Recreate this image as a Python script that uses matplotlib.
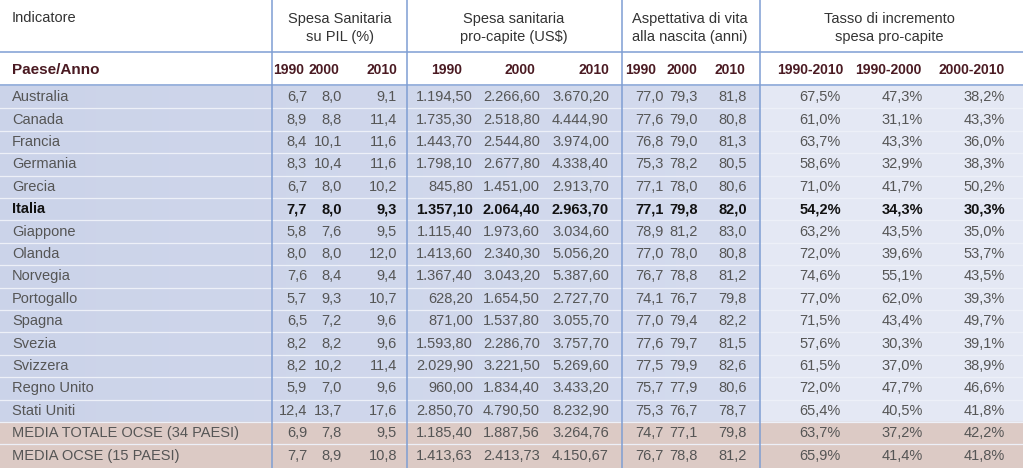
import numpy as np
import matplotlib
matplotlib.use('Agg')
import matplotlib.pyplot as plt

plt.rcParams['font.family'] = ['Liberation Sans', 'DejaVu Sans']

# dati della tabella
paesi = ['Australia', 'Canada', 'Francia', 'Germania', 'Grecia', 'Italia', 'Giappone',
         'Olanda', 'Norvegia', 'Portogallo', 'Spagna', 'Svezia', 'Svizzera', 'Regno Unito',
         'Stati Uniti', 'MEDIA TOTALE OCSE (34 PAESI)', 'MEDIA OCSE (15 PAESI)']
pil_1990 = [6.7, 8.9, 8.4, 8.3, 6.7, 7.7, 5.8, 8.0, 7.6, 5.7, 6.5, 8.2, 8.2, 5.9, 12.4, 6.9, 7.7]
pil_2000 = [8.0, 8.8, 10.1, 10.4, 8.0, 8.0, 7.6, 8.0, 8.4, 9.3, 7.2, 8.2, 10.2, 7.0, 13.7, 7.8, 8.9]
pil_2010 = [9.1, 11.4, 11.6, 11.6, 10.2, 9.3, 9.5, 12.0, 9.4, 10.7, 9.6, 9.6, 11.4, 9.6, 17.6, 9.5, 10.8]
pc_1990 = [1194.50, 1735.30, 1443.70, 1798.10, 845.80, 1357.10, 1115.40, 1413.60, 1367.40, 628.20,
           871.00, 1593.80, 2029.90, 960.00, 2850.70, 1185.40, 1413.63]
pc_2000 = [2266.60, 2518.80, 2544.80, 2677.80, 1451.00, 2064.40, 1973.60, 2340.30, 3043.20, 1654.50,
           1537.80, 2286.70, 3221.50, 1834.40, 4790.50, 1887.56, 2413.73]
pc_2010 = [3670.20, 4444.90, 3974.00, 4338.40, 2913.70, 2963.70, 3034.60, 5056.20, 5387.60, 2727.70,
           3055.70, 3757.70, 5269.60, 3433.20, 8232.90, 3264.76, 4150.67]
vita_1990 = [77.0, 77.6, 76.8, 75.3, 77.1, 77.1, 78.9, 77.0, 76.7, 74.1, 77.0, 77.6, 77.5, 75.7, 75.3, 74.7, 76.7]
vita_2000 = [79.3, 79.0, 79.0, 78.2, 78.0, 79.8, 81.2, 78.0, 78.8, 76.7, 79.4, 79.7, 79.9, 77.9, 76.7, 77.1, 78.8]
vita_2010 = [81.8, 80.8, 81.3, 80.5, 80.6, 82.0, 83.0, 80.8, 81.2, 79.8, 82.2, 81.5, 82.6, 80.6, 78.7, 79.8, 81.2]
inc_90_10 = [67.5, 61.0, 63.7, 58.6, 71.0, 54.2, 63.2, 72.0, 74.6, 77.0, 71.5, 57.6, 61.5, 72.0, 65.4, 63.7, 65.9]
inc_90_00 = [47.3, 31.1, 43.3, 32.9, 41.7, 34.3, 43.5, 39.6, 55.1, 62.0, 43.4, 30.3, 37.0, 47.7, 40.5, 37.2, 41.4]
inc_00_10 = [38.2, 43.3, 36.0, 38.3, 50.2, 30.3, 35.0, 53.7, 43.5, 39.3, 49.7, 39.1, 38.9, 46.6, 41.8, 42.2, 41.8]

gruppi = ['Spesa Sanitaria\nsu PIL (%)', 'Spesa sanitaria\npro-capite (US$)',
          'Aspettativa di vita\nalla nascita (anni)', 'Tasso di incremento\nspesa pro-capite']
anni = ['1990', '2000', '2010', '1990', '2000', '2010', '1990', '2000', '2010',
        '1990-2010', '1990-2000', '2000-2010']


def fmt_it(v, dec):
    s = f'{v:,.{dec}f}'
    return s.replace(',', 'X').replace('.', ',').replace('X', '.')


colonne = [
    [fmt_it(v, 1) for v in pil_1990], [fmt_it(v, 1) for v in pil_2000], [fmt_it(v, 1) for v in pil_2010],
    [fmt_it(v, 2) for v in pc_1990], [fmt_it(v, 2) for v in pc_2000], [fmt_it(v, 2) for v in pc_2010],
    [fmt_it(v, 1) for v in vita_1990], [fmt_it(v, 1) for v in vita_2000], [fmt_it(v, 1) for v in vita_2010],
    [fmt_it(v, 1) + '%' for v in inc_90_10], [fmt_it(v, 1) + '%' for v in inc_90_00],
    [fmt_it(v, 1) + '%' for v in inc_00_10],
]

W, H = 1023, 468
fig = plt.figure(figsize=(W / 100, H / 100), dpi=100)
ax = fig.add_axes([0, 0, 1, 1])
ax.set_xlim(0, W)
ax.set_ylim(H, 0)
ax.axis('off')

y_top = 86
passo = 22.4
n = len(paesi)
n_blu = 15
y_blu = y_top + n_blu * passo

# sfondo righe blu (gradiente orizzontale)
grad = np.zeros((1, W, 3))
sx = np.array([203, 211, 233]) / 255
dx = np.array([212, 219, 238]) / 255
chiaro = np.array([228, 232, 244]) / 255
for x in range(W):
    if x < 760:
        t = x / 760
        grad[0, x] = sx * (1 - t) + dx * t
    else:
        grad[0, x] = chiaro
ax.imshow(grad, extent=[0, W, y_blu, y_top], aspect='auto', zorder=0)
ax.add_patch(plt.Rectangle((0, y_blu), W, H - y_blu, color='#dccac5', zorder=0))

# linee righe
for i in range(1, n):
    y = y_top + i * passo
    ax.plot([0, W], [y, y], color='#edf0f8', lw=0.9, zorder=1)
ax.plot([0, W], [52, 52], color='#7f9ed3', lw=1.1, zorder=2)
ax.plot([0, W], [y_top - 1, y_top - 1], color='#7f9ed3', lw=1.1, zorder=2)

sep = [272, 407, 622, 760]
for x in sep:
    ax.plot([x, x], [0, H], color='#7f9ed3', lw=1.1, zorder=2)

# intestazioni
ax.text(12, 18, 'Indicatore', fontsize=10.5, color='#333333', va='center', ha='left')
centri = [340, 514, 690, 889]
for c, g in zip(centri, gruppi):
    ax.text(c, 28, g, fontsize=10.5, color='#333333', va='center', ha='center', linespacing=1.3)

ax.text(12, 70, 'Paese/Anno', fontsize=11, color='#4a1a22', fontweight='bold', va='center', ha='left')
x_col = [307, 342, 397, 473, 540, 609, 664, 698, 747, 841, 923, 1005]
x_anni = [304, 339, 397, 462, 535, 609, 656, 697, 745, 843, 922, 1005]
for x, a in zip(x_anni, anni):
    ax.text(x, 70, a, fontsize=10, color='#4a1a22', fontweight='bold', va='center', ha='right')

# corpo
for i, p in enumerate(paesi):
    y = y_top + (i + 0.5) * passo
    bold = p == 'Italia'
    col = '#111111' if bold else '#555555'
    peso = 'bold' if bold else 'normal'
    ax.text(12, y, p, fontsize=10.5, color=col, fontweight=peso, va='center', ha='left')
    for x, valori in zip(x_col, colonne):
        ax.text(x, y, valori[i], fontsize=10.5, color=col, fontweight=peso, va='center', ha='right')

fig.savefig('out.png', dpi=100)
